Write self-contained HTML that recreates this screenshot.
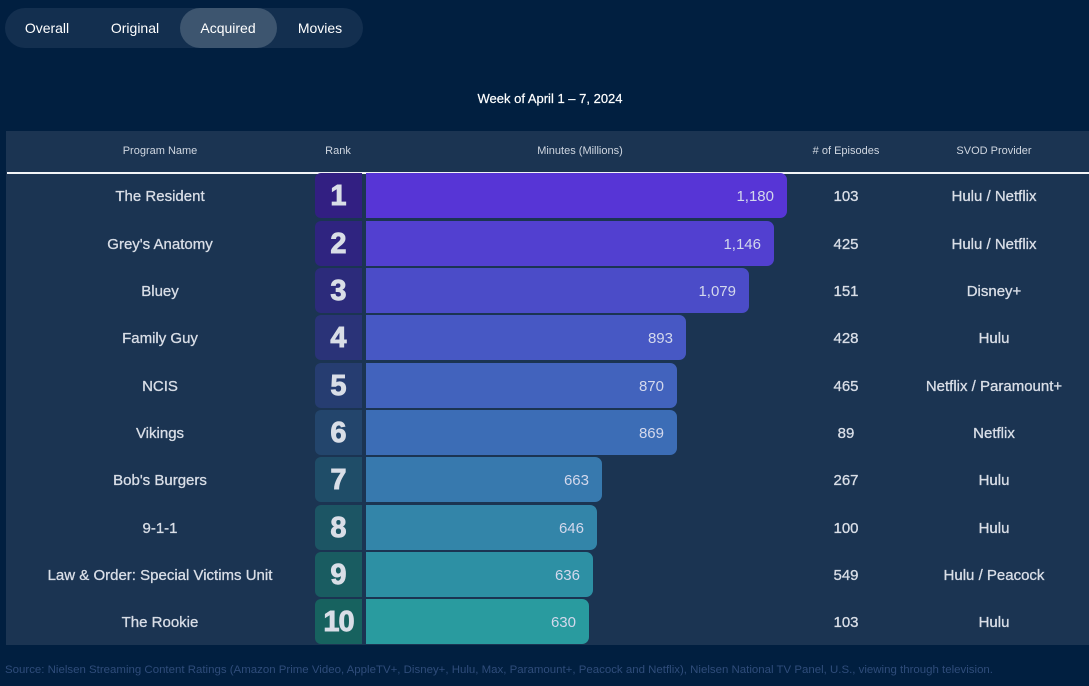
<!DOCTYPE html>
<html><head><meta charset="utf-8">
<style>
*{margin:0;padding:0;box-sizing:border-box}
html,body{width:1089px;height:686px;overflow:hidden;background:#011f40;font-family:"Liberation Sans",sans-serif;}
.abs{position:absolute}
#tabs{left:5px;top:8px;width:358px;height:40px;border-radius:20px;background:#132f4f}
#active{left:180px;top:8px;width:97px;height:40px;border-radius:20px;background:#3d556f}
.tab{top:8px;height:40px;line-height:41px;font-size:14px;color:#fff;text-align:center;width:100px;margin-left:-50px}
#title{left:0;width:1100px;top:91px;text-align:center;font-size:13px;color:#fff;-webkit-text-stroke:0.2px #fff}
#panel{left:6px;top:131px;width:1083px;height:514px;background:#1b3452}
#line{left:7px;top:172px;width:1082px;height:1.5px;background:#f2f4f7}
.hd{top:144px;font-size:11px;color:#cfd6e0;text-align:center;width:200px;margin-left:-100px;line-height:14px}
.cell{font-size:15px;color:#d9dee7;text-align:center;width:300px;margin-left:-150px;height:45px;line-height:47px;-webkit-text-stroke:0.3px #d9dee7}
.rk{left:315px;width:47px;height:45px;border-radius:6px 0 0 6px;color:#d9dee7;font-weight:bold;font-size:29px;text-align:center;line-height:46px;-webkit-text-stroke:0.9px #d9dee7}
.bar{left:366px;height:45px;border-radius:0 7px 7px 0}
.val{position:absolute;right:13px;top:0;line-height:47px;font-size:15px;color:#d3d8ec}
</style></head><body>
<div id="tabs" class="abs"></div>
<div id="active" class="abs"></div>
<div class="abs tab" style="left:47px">Overall</div>
<div class="abs tab" style="left:135px">Original</div>
<div class="abs tab" style="left:228px">Acquired</div>
<div class="abs tab" style="left:320px">Movies</div>
<div id="title" class="abs">Week of April 1 – 7, 2024</div>
<div id="panel" class="abs"></div>
<div class="abs hd" style="left:160px">Program Name</div>
<div class="abs hd" style="left:338px">Rank</div>
<div class="abs hd" style="left:580px">Minutes (Millions)</div>
<div class="abs hd" style="left:846px">#&nbsp;of Episodes</div>
<div class="abs hd" style="left:994px">SVOD Provider</div>
<div id="line" class="abs"></div>

<!-- rows -->
<div class="abs cell" style="left:160px;top:173px">The Resident</div>
<div class="abs rk" style="top:173px;background:#321f82">1</div>
<div class="abs bar" style="top:173px;width:421px;background:#5735d6"><span class="val">1,180</span></div>
<div class="abs cell" style="left:846px;top:173px">103</div>
<div class="abs cell" style="left:994px;top:173px">Hulu / Netflix</div>

<div class="abs cell" style="left:160px;top:220.5px">Grey's Anatomy</div>
<div class="abs rk" style="top:220.5px;background:#2f2480">2</div>
<div class="abs bar" style="top:220.5px;width:408px;background:#5240d0"><span class="val">1,146</span></div>
<div class="abs cell" style="left:846px;top:220.5px">425</div>
<div class="abs cell" style="left:994px;top:220.5px">Hulu / Netflix</div>

<div class="abs cell" style="left:160px;top:268px">Bluey</div>
<div class="abs rk" style="top:268px;background:#2c2b7b">3</div>
<div class="abs bar" style="top:268px;width:383px;background:#4b4cc8"><span class="val">1,079</span></div>
<div class="abs cell" style="left:846px;top:268px">151</div>
<div class="abs cell" style="left:994px;top:268px">Disney+</div>

<div class="abs cell" style="left:160px;top:315px">Family Guy</div>
<div class="abs rk" style="top:315px;background:#2a3378">4</div>
<div class="abs bar" style="top:315px;width:320px;background:#4758c4"><span class="val">893</span></div>
<div class="abs cell" style="left:846px;top:315px">428</div>
<div class="abs cell" style="left:994px;top:315px">Hulu</div>

<div class="abs cell" style="left:160px;top:362.5px">NCIS</div>
<div class="abs rk" style="top:362.5px;background:#263d71">5</div>
<div class="abs bar" style="top:362.5px;width:311px;background:#4263bd"><span class="val">870</span></div>
<div class="abs cell" style="left:846px;top:362.5px">465</div>
<div class="abs cell" style="left:994px;top:362.5px">Netflix / Paramount+</div>

<div class="abs cell" style="left:160px;top:410px">Vikings</div>
<div class="abs rk" style="top:410px;background:#23456c">6</div>
<div class="abs bar" style="top:410px;width:311px;background:#3c6db6"><span class="val">869</span></div>
<div class="abs cell" style="left:846px;top:410px">89</div>
<div class="abs cell" style="left:994px;top:410px">Netflix</div>

<div class="abs cell" style="left:160px;top:457px">Bob's Burgers</div>
<div class="abs rk" style="top:457px;background:#1f4d68">7</div>
<div class="abs bar" style="top:457px;width:236px;background:#3779ae"><span class="val">663</span></div>
<div class="abs cell" style="left:846px;top:457px">267</div>
<div class="abs cell" style="left:994px;top:457px">Hulu</div>

<div class="abs cell" style="left:160px;top:504.5px">9-1-1</div>
<div class="abs rk" style="top:504.5px;background:#1c5564">8</div>
<div class="abs bar" style="top:504.5px;width:231px;background:#3385a9"><span class="val">646</span></div>
<div class="abs cell" style="left:846px;top:504.5px">100</div>
<div class="abs cell" style="left:994px;top:504.5px">Hulu</div>

<div class="abs cell" style="left:160px;top:552px">Law &amp; Order: Special Victims Unit</div>
<div class="abs rk" style="top:552px;background:#195c61">9</div>
<div class="abs bar" style="top:552px;width:227px;background:#2d90a4"><span class="val">636</span></div>
<div class="abs cell" style="left:846px;top:552px">549</div>
<div class="abs cell" style="left:994px;top:552px">Hulu / Peacock</div>

<div class="abs cell" style="left:160px;top:599px">The Rookie</div>
<div class="abs rk" style="top:599px;background:#17625f;letter-spacing:-1px">10</div>
<div class="abs bar" style="top:599px;width:223px;background:#299b9f"><span class="val">630</span></div>
<div class="abs cell" style="left:846px;top:599px">103</div>
<div class="abs cell" style="left:994px;top:599px">Hulu</div>

<svg class="abs" style="left:0;top:655px" width="1089" height="30">
<text x="5" y="18" font-family="Liberation Sans, sans-serif" font-size="11" fill="#2f4c7a" textLength="988" lengthAdjust="spacingAndGlyphs">Source: Nielsen Streaming Content Ratings (Amazon Prime Video, AppleTV+, Disney+, Hulu, Max, Paramount+, Peacock and Netflix), Nielsen National TV Panel, U.S., viewing through television.</text>
</svg>
</body></html>
